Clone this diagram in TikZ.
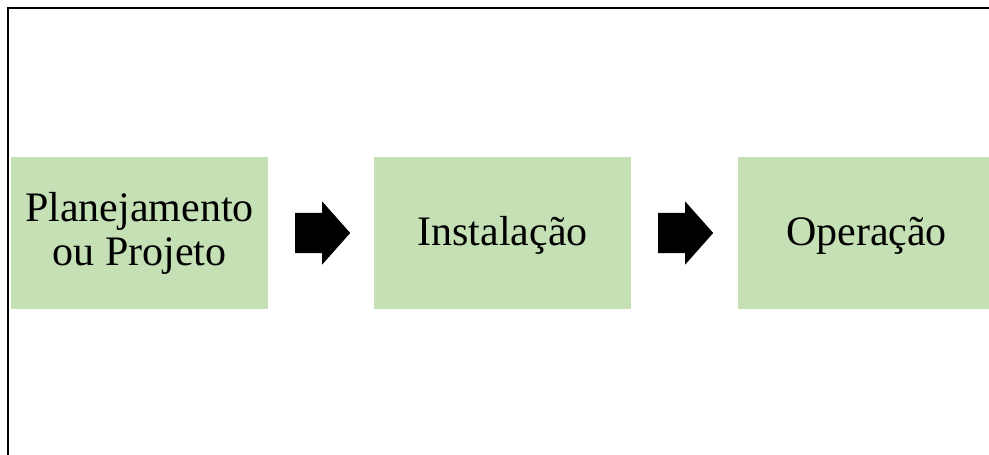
\documentclass[tikz,border=0pt]{standalone}
\usepackage{fontspec}
\setmainfont{Liberation Serif}
\usetikzlibrary{shapes.arrows}
\definecolor{boxgreen}{RGB}{197,224,180}
\tikzset{
  stagebox/.style={rectangle, fill=boxgreen, draw=none, minimum width=257pt, minimum height=152pt,
    inner sep=0pt, align=center, font=\fontsize{42}{44}\selectfont},
  oneline/.style={text height=32pt, text depth=6pt},
  blockarrow/.style={single arrow, fill=black, draw=none, inner xsep=0pt, inner ysep=20pt,
    minimum height=55pt, single arrow head extend=11.5pt, single arrow tip angle=96.8,
    anchor=tail, shape border rotate=0}
}
\begin{document}
\begin{tikzpicture}[x=1pt,y=1pt]
\useasboundingbox (0,0) rectangle (989,455);
\clip (0,0) rectangle (989,455);
\draw[line width=2.2pt] (8,0) -- (8,447) -- (989,447);
\node[stagebox] (plan) at (139.5,222) {Planejamento\\ou Projeto};
\node[stagebox, oneline] (inst) at (502.5,222) {Instalação};
\node[stagebox, oneline] (oper) at (866.5,222) {Operação};
\node[blockarrow] (arr1) at (295,222) {};
\node[blockarrow] (arr2) at (658,222) {};
\end{tikzpicture}
\end{document}
